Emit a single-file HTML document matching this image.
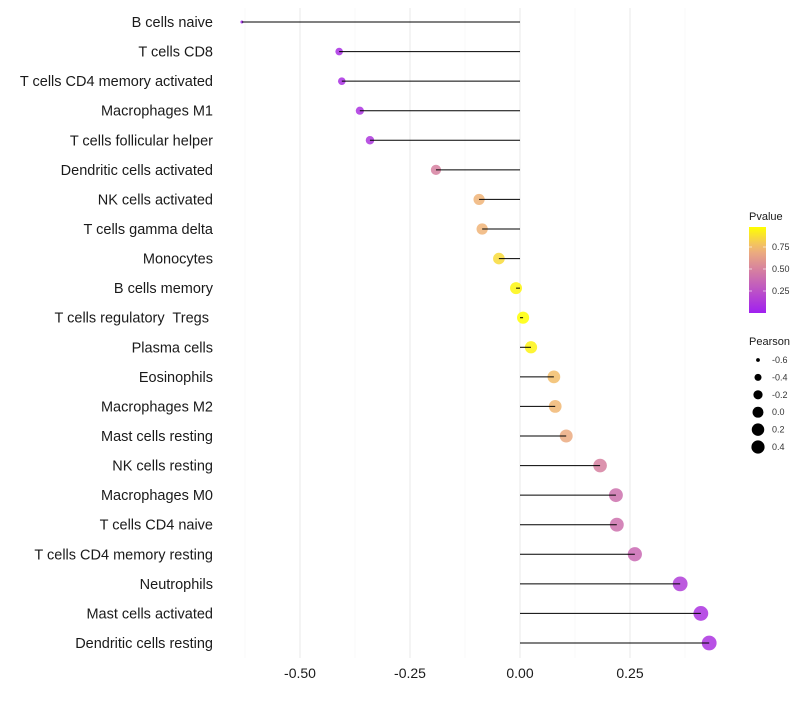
<!DOCTYPE html>
<html><head><meta charset="utf-8"><style>
body{margin:0;background:#fff;font-family:"Liberation Sans",sans-serif}
text{white-space:pre}
</style></head><body>
<svg id="chart" width="800" height="700" xmlns="http://www.w3.org/2000/svg"></svg>
<script>
const categories=["B cells naive","T cells CD8","T cells CD4 memory activated","Macrophages M1","T cells follicular helper","Dendritic cells activated","NK cells activated","T cells gamma delta","Monocytes","B cells memory","T cells regulatory  Tregs ","Plasma cells","Eosinophils","Macrophages M2","Mast cells resting","NK cells resting","Macrophages M0","T cells CD4 naive","T cells CD4 memory resting","Neutrophils","Mast cells activated","Dendritic cells resting"];
const pearson=[-0.632,-0.411,-0.405,-0.364,-0.341,-0.191,-0.093,-0.086,-0.048,-0.009,0.007,0.025,0.077,0.080,0.105,0.182,0.218,0.220,0.261,0.364,0.411,0.430];
const pvalues=[0.02,0.08,0.08,0.1,0.12,0.5,0.75,0.75,0.88,0.97,1.0,0.96,0.78,0.76,0.7,0.5,0.42,0.42,0.38,0.15,0.1,0.1];
const xTicks=[-0.5,-0.25,0,0.25];
const xTickLabels=["-0.50","-0.25","0.00","0.25"];
const legendSizes=[-0.6,-0.4,-0.2,0.0,0.2,0.4];
const legendSizeLabels=["-0.6","-0.4","-0.2","0.0","0.2","0.4"];
const colorTicks=[0.25,0.5,0.75];

const svg=document.getElementById('chart');
const NS="http://www.w3.org/2000/svg";
const x=v=>520+v*440;
const y=i=>22+i*(643-22)/(categories.length-1);
const r=v=>Math.min(7.4,Math.sqrt(Math.max(2.25,2.25+54*(v+0.632))));
const lr=v=>Math.sqrt(Math.max(2.25,30+44*v));
function col(p){
  const a=[160,32,240],m=[214,128,160],b=[255,255,0];
  let c;
  if(p<0.5){const t=p/0.5;c=a.map((v,k)=>v+(m[k]-v)*t);}
  else{const t=(p-0.5)/0.5;const m2=[240,180,120];
    if(t<0.5){c=m.map((v,k)=>v+(m2[k]-v)*t*2);}else{c=m2.map((v,k)=>v+(b[k]-v)*(t-0.5)*2);}}
  return `rgb(${c.map(Math.round).join(',')})`;
}
function mk(tag,attrs,parent){const e=document.createElementNS(NS,tag);for(const k in attrs)e.setAttribute(k,attrs[k]);(parent||svg).appendChild(e);return e;}

// grid
const grid=mk('g',{});


[-0.625,-0.375,-0.125,0.125,0.375].forEach(v=>mk('line',{x1:x(v),x2:x(v),y1:8,y2:658,stroke:'#f3f3f3','stroke-width':0.6},grid));
xTicks.forEach(v=>mk('line',{x1:x(v),x2:x(v),y1:8,y2:658,stroke:'#ebebeb','stroke-width':1.1},grid));

// marks
categories.forEach((c,i)=>{
  const lab=mk('text',{x:213,y:y(i)+5,'text-anchor':'end','font-size':14.5,fill:'#1a1a1a'});
  lab.textContent=c;
  
  
  const pt=mk('circle',{cx:x(pearson[i]),cy:y(i),r:r(pearson[i]),fill:col(pvalues[i]),'fill-opacity':0.85});
  
  
  const ln=mk('line',{x1:x(0),x2:x(pearson[i]),y1:y(i),y2:y(i),stroke:'#000','stroke-width':1});
  
  
});

xTicks.forEach((v,i)=>{
  const t=mk('text',{x:x(v),y:678,'text-anchor':'middle','font-size':14,fill:'#1a1a1a'});
  t.textContent=xTickLabels[i];
  
  
});

// color legend
const lt=mk('text',{x:749,y:220,'font-size':11,fill:'#1a1a1a'});lt.textContent='Pvalue';


const defs=mk('defs',{});
const gr=mk('linearGradient',{id:'pg',x1:0,y1:1,x2:0,y2:0},defs);
for(let k=0;k<=10;k++){mk('stop',{offset:k/10,'stop-color':col(k/10)},gr);}
const cb=mk('rect',{x:749,y:227,width:17,height:86,fill:'url(#pg)'});


colorTicks.forEach(v=>{
  const yy=313-v*88;
  mk('line',{x1:749,x2:752,y1:yy,y2:yy,stroke:'#fff','stroke-width':0.6});
  mk('line',{x1:763,x2:766,y1:yy,y2:yy,stroke:'#fff','stroke-width':0.6});
  const t=mk('text',{x:772,y:yy+3,'font-size':9,fill:'#333'});t.textContent=v.toFixed(2);
  
  
});
// size legend
const st=mk('text',{x:749,y:345,'font-size':11,fill:'#1a1a1a'});st.textContent='Pearson';


legendSizes.forEach((v,i)=>{
  const yy=360+i*17.4;
  const c=mk('circle',{cx:758,cy:yy,r:Math.min(lr(v),6.6),fill:'#000'});
  
  
  const t=mk('text',{x:772,y:yy+3,'font-size':9,fill:'#333'});t.textContent=legendSizeLabels[i];
  
  
});
</script>
</body></html>
